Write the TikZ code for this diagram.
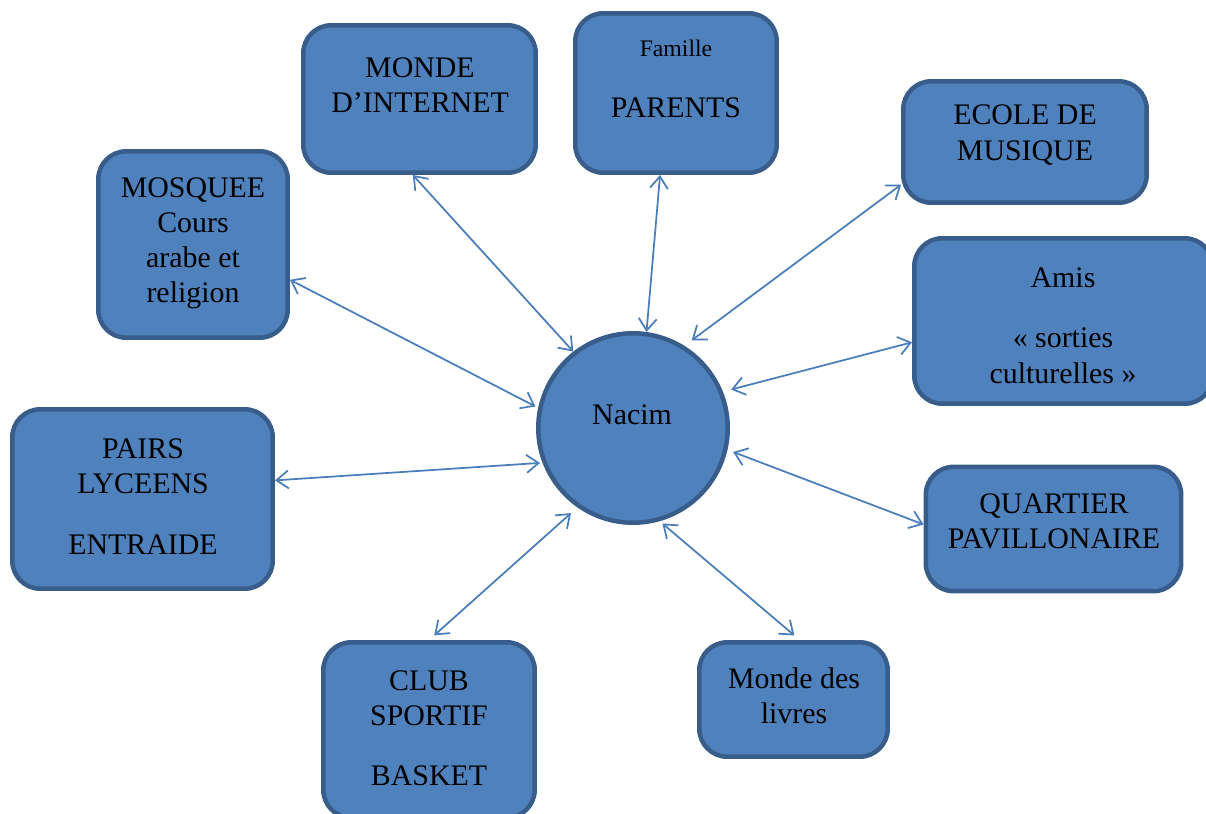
\documentclass[tikz,border=0pt]{standalone}
\usepackage{fontspec}
\setmainfont{Liberation Serif}
\usetikzlibrary{arrows.meta}
\definecolor{bleu}{HTML}{4F81BD}
\definecolor{bord}{HTML}{385D8A}
\definecolor{fleche}{HTML}{4A7EBB}
\begin{document}
\begin{tikzpicture}[x=0.02cm,y=-0.02cm,
	cadre/.style={draw=bord,fill=bleu,line width=0.09cm,rounded corners=0.56cm,inner sep=0pt},
	rond/.style={circle,draw=bord,fill=bleu,line width=0.09cm,minimum size=3.79cm,inner sep=0pt},
	texte/.style={align=center,font=\fontsize{17}{20}\selectfont,inner sep=0pt},
	legame/.style={draw=fleche,line width=0.035cm,{Straight Barb[length=0.24cm,width=0.36cm]}-{Straight Barb[length=0.24cm,width=0.36cm]}}]
	\useasboundingbox (0,0) rectangle (1206,814);
	\clip (0,0) rectangle (1206,814);
	\node[cadre,minimum width=4.65cm,minimum height=2.95cm] (monde) at (419.5,99) {};
	\node[cadre,minimum width=4.03cm,minimum height=3.19cm] (parents) at (676,93) {};
	\node[cadre,minimum width=4.87cm,minimum height=2.43cm] (ecole) at (1025,142) {};
	\node[cadre,minimum width=3.79cm,minimum height=3.73cm] (mosquee) at (193,244.5) {};
	\node[cadre,minimum width=5.97cm,minimum height=3.31cm] (amis) at (1063.5,321) {};
	\node[cadre,minimum width=5.21cm,minimum height=3.59cm] (pairs) at (142.5,499) {};
	\node[cadre,minimum width=5.11cm,minimum height=2.49cm] (quartier) at (1053.5,529) {};
	\node[cadre,minimum width=4.23cm,minimum height=3.51cm] (club) at (429,730) {};
	\node[cadre,minimum width=3.77cm,minimum height=2.29cm] (livres) at (793.5,699.5) {};
	\node[rond] (nacim) at (633,428) {};
	\draw[legame] (monde.-95) -- (nacim.128);
	\draw[legame] (parents.-101) -- (nacim.82);
	\draw[legame,shorten >=0.18cm] (ecole.-161) -- (nacim.58);
	\draw[legame,shorten >=0.06cm] (mosquee.-20) -- (nacim.168);
	\draw[legame,shorten >=0.17cm] (amis.-172) -- (nacim.22);
	\draw[legame,shorten >=0.05cm] (pairs.8) -- (nacim.-159);
	\draw[legame,shorten >=0.12cm] (quartier.178) -- (nacim.-13.5);
	\draw[legame,shorten <=0.14cm,shorten >=0.17cm] (club.north) -- (nacim.-125);
	\draw[legame,shorten <=0.14cm,shorten >=0.07cm] (livres.84) -- (nacim.-74);
	% etiquettes
	\node[texte] (tmonde) at (420,85.5) {MONDE\\D’INTERNET};
	\node[texte,font=\fontsize{13.5}{16}\selectfont] (tfamille) at (676,48) {Famille};
	\node[texte] (tparents) at (676,108) {PARENTS};
	\node[texte] (tecole) at (1025,135) {ECOLE DE\\MUSIQUE};
	\node[texte] (tmosquee) at (193,243.5) {MOSQUEE\\Cours\\arabe et\\religion};
	\node[texte] (tamis) at (1063,325.5) {Amis\\[14.5pt]«~sorties\\culturelles~»};
	\node[texte] (tpairs) at (143,496.5) {PAIRS\\LYCEENS\\[14.5pt]ENTRAIDE};
	\node[texte] (tquartier) at (1054,521) {QUARTIER\\PAVILLONAIRE};
	\node[texte] (tclub) at (429,728.5) {CLUB\\SPORTIF\\[14pt]BASKET};
	\node[texte] (tlivres) at (794,695.5) {Monde des\\livres};
	\node[texte] (tnacim) at (632,415) {Nacim};
\end{tikzpicture}
\end{document}
